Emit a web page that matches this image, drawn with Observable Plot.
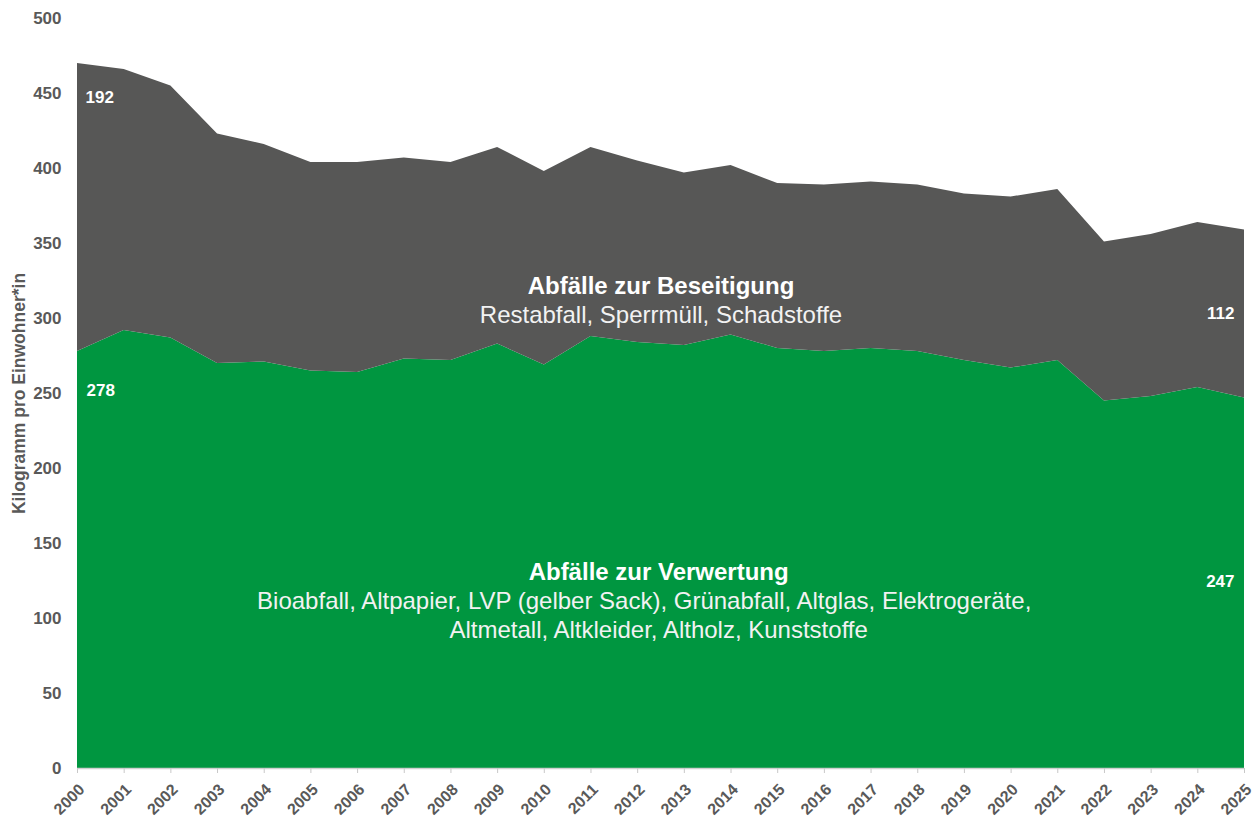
<!DOCTYPE html>
<html><head><meta charset="utf-8">
<script src="https://cdn.jsdelivr.net/npm/d3@7"></script>
<script src="https://cdn.jsdelivr.net/npm/@observablehq/plot@0.6"></script>
<style>
body{margin:0;background:#fff;font-family:"Liberation Sans",Arial,sans-serif}
</style>
</head><body><div id="chart"></div>
<script>
const years = [2000,2001,2002,2003,2004,2005,2006,2007,2008,2009,2010,2011,2012,2013,2014,2015,2016,2017,2018,2019,2020,2021,2022,2023,2024,2025];
const verwertung = [278,292,287,270,271,265,264,273,272,283,269,288,284,282,289,280,278,280,278,272,267,272,245,248,254,247];
const beseitigung = [192,174,168,153,145,139,140,134,132,131,129,126,121,115,113,110,111,111,111,111,114,114,106,108,110,112];
const series = ["Abfälle zur Verwertung","Abfälle zur Beseitigung"];
const colors = ["#009640","#575756"];
const yTicks = [0,50,100,150,200,250,300,350,400,450,500];
const yLabel = "Kilogramm pro Einwohner*in";
const titleBes = "Abfälle zur Beseitigung";
const subBes = "Restabfall, Sperrmüll, Schadstoffe";
const titleVer = "Abfälle zur Verwertung";
const subVer1 = "Bioabfall, Altpapier, LVP (gelber Sack), Grünabfall, Altglas, Elektrogeräte,";
const subVer2 = "Altmetall, Altkleider, Altholz, Kunststoffe";

const rows = [];
years.forEach((yr,i)=>{
  rows.push({year:yr, series:series[0], value:verwertung[i]});
  rows.push({year:yr, series:series[1], value:beseitigung[i]});
});
const n = years.length-1;
const font = "Liberation Sans, Arial, sans-serif";

const chart = Plot.plot({
  width:1254, height:823,
  marginLeft:77, marginRight:10, marginTop:18, marginBottom:55,
  style:{fontFamily:font, background:"#fff"},
  x:{domain:[2000,2025], label:null},
  y:{domain:[0,500], label:null},
  color:{domain:series, range:colors},
  marks:[
    Plot.areaY(rows,{x:"year", y:"value", fill:"series", order:series, curve:"linear"}),
    Plot.ruleY([0],{stroke:"#d0d0d0", strokeWidth:1.5}),
    Plot.axisX({ticks:years, tickFormat:()=>"", tickSize:5, stroke:"#c8c8c8", label:null}),
    Plot.text(years,{x:d=>d, y:0, text:d=>String(d), rotate:-45, textAnchor:"end", lineAnchor:"top", dx:0, dy:14, fontSize:16, fontWeight:"bold", fill:"#595959"}),
    Plot.axisY({ticks:yTicks, tickSize:0, tickPadding:16, fill:"#595959", fontSize:17, fontWeight:"bold", label:null}),
    Plot.text([yLabel],{frameAnchor:"left", textAnchor:"middle", dx:-58, rotate:-90, fontSize:17.5, fontWeight:"bold", fill:"#595959"}),
    Plot.text([titleBes],{x:2012.5, y:321.5, fontSize:24, fontWeight:"bold", fill:"#ffffff"}),
    Plot.text([subBes],{x:2012.5, y:302, fontSize:24, fill:"#f2f2f2"}),
    Plot.text([titleVer],{x:2012.45, y:130.5, fontSize:24, fontWeight:"bold", fill:"#ffffff"}),
    Plot.text([subVer1],{x:2012.14, y:111.3, fontSize:24, fill:"#f2f2f2"}),
    Plot.text([subVer2],{x:2012.45, y:92, fontSize:24, fill:"#f2f2f2"}),
    Plot.text([String(beseitigung[0])],{x:years[0], y:447, dx:8, textAnchor:"start", fontSize:17, fontWeight:"bold", fill:"#ffffff"}),
    Plot.text([String(verwertung[0])],{x:years[0], y:252, dx:9, textAnchor:"start", fontSize:17, fontWeight:"bold", fill:"#ffffff"}),
    Plot.text([String(beseitigung[n])],{x:years[n], y:303.3, dx:-10, textAnchor:"end", fontSize:17, fontWeight:"bold", fill:"#ffffff"}),
    Plot.text([String(verwertung[n])],{x:years[n], y:124.7, dx:-10, textAnchor:"end", fontSize:17, fontWeight:"bold", fill:"#ffffff"})
  ]
});
document.getElementById("chart").appendChild(chart);
</script>
</body></html>
